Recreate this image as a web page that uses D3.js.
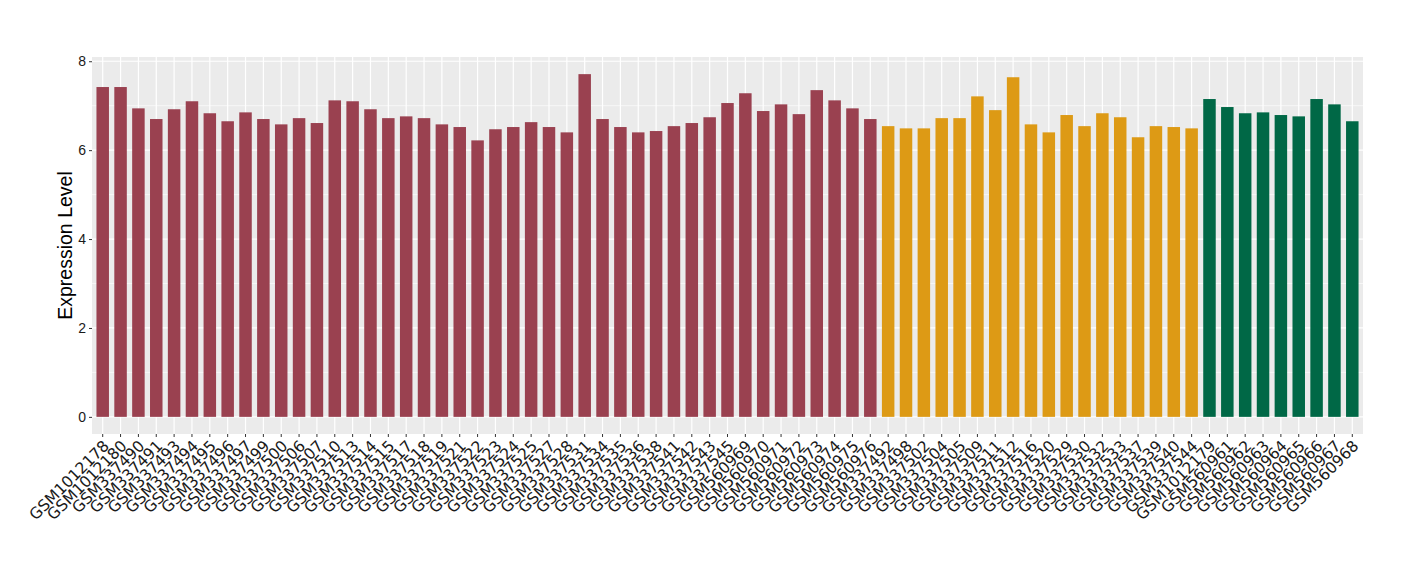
<!DOCTYPE html>
<html><head><meta charset="utf-8">
<script src="https://cdn.jsdelivr.net/npm/d3@7"></script>
<style>body{margin:0;background:#fff;} svg{display:block;}</style>
</head><body>
<svg id="chart" width="1420" height="580"></svg>
<script>
const groupA = ["GSM1012178","GSM1012180","GSM337490","GSM337491","GSM337493","GSM337494","GSM337495","GSM337496","GSM337497","GSM337499","GSM337500","GSM337506","GSM337507","GSM337510","GSM337513","GSM337514","GSM337515","GSM337517","GSM337518","GSM337519","GSM337521","GSM337522","GSM337523","GSM337524","GSM337525","GSM337527","GSM337528","GSM337531","GSM337534","GSM337535","GSM337536","GSM337538","GSM337541","GSM337542","GSM337543","GSM337545","GSM560969","GSM560970","GSM560971","GSM560972","GSM560973","GSM560974","GSM560975","GSM560976"];
const valuesA = [7.42,7.42,6.94,6.70,6.92,7.10,6.83,6.65,6.85,6.70,6.58,6.72,6.61,7.12,7.10,6.92,6.72,6.76,6.72,6.58,6.52,6.22,6.47,6.52,6.63,6.52,6.40,7.71,6.70,6.52,6.40,6.43,6.54,6.61,6.74,7.06,7.28,6.88,7.03,6.81,7.35,7.12,6.94,6.70];
const groupB = ["GSM337492","GSM337498","GSM337502","GSM337504","GSM337505","GSM337509","GSM337511","GSM337512","GSM337516","GSM337520","GSM337529","GSM337530","GSM337532","GSM337533","GSM337537","GSM337539","GSM337540","GSM337544"];
const valuesB = [6.54,6.49,6.49,6.72,6.72,7.21,6.90,7.64,6.58,6.40,6.79,6.54,6.83,6.74,6.29,6.54,6.52,6.49];
const groupC = ["GSM1012179","GSM560961","GSM560962","GSM560963","GSM560964","GSM560965","GSM560966","GSM560967","GSM560968"];
const valuesC = [7.15,6.97,6.83,6.85,6.79,6.76,7.15,7.03,6.65];
const groupColors = ["#9a4150","#dd9a15","#006846"];
const yTicks = [0,2,4,6,8];
const yMinor = [1,3,5,7];
const yTitle = "Expression Level";

const data = [];
[[groupA,valuesA],[groupB,valuesB],[groupC,valuesC]].forEach(([names,vals],g)=>{
  names.forEach((n,i)=>data.push({name:n,value:vals[i],group:g}));
});

const svg = d3.select("#chart");
const panel = {left:92, right:1363, top:57, bottom:434};
const n = data.length;
const unit = (panel.right-panel.left)/(n-1+1.2);
const x = d3.scaleBand().domain(data.map(d=>d.name))
  .range([panel.left+0.6*unit-0.5*unit, panel.right-0.6*unit+0.5*unit])
  .paddingInner(0.3).paddingOuter(0.15);
const maxV = d3.max(data,d=>d.value);
const y = d3.scaleLinear().domain([-0.05*maxV, maxV*1.05]).range([panel.bottom,panel.top]);

svg.append("rect").attr("x",panel.left).attr("y",panel.top)
  .attr("width",panel.right-panel.left).attr("height",panel.bottom-panel.top).attr("fill","#ebebeb");

const grid = svg.append("g");
grid.selectAll(".minor").data(yMinor).join("line")
  .attr("x1",panel.left).attr("x2",panel.right)
  .attr("y1",d=>y(d)).attr("y2",d=>y(d)).attr("stroke","#fff").attr("stroke-width",0.6);
grid.selectAll(".major").data(yTicks).join("line")
  .attr("x1",panel.left).attr("x2",panel.right)
  .attr("y1",d=>y(d)).attr("y2",d=>y(d)).attr("stroke","#fff").attr("stroke-width",1.2);
grid.selectAll(".vx").data(data).join("line")
  .attr("x1",d=>x(d.name)+x.bandwidth()/2).attr("x2",d=>x(d.name)+x.bandwidth()/2)
  .attr("y1",panel.top).attr("y2",panel.bottom).attr("stroke","#fff").attr("stroke-width",1.2);

svg.append("g").selectAll("rect").data(data).join("rect")
  .attr("x",d=>x(d.name)).attr("width",x.bandwidth())
  .attr("y",d=>y(d.value)).attr("height",d=>y(0)-y(d.value))
  .attr("fill",d=>groupColors[d.group]);

const yAxis = svg.append("g").attr("transform",`translate(${panel.left},0)`)
  .call(d3.axisLeft(y).tickValues(yTicks).tickSize(3).tickPadding(3).tickFormat(d3.format("d")));
yAxis.select(".domain").remove();
yAxis.selectAll("line").attr("stroke","#333");
yAxis.selectAll("text").attr("fill","#1a1a1a").style("font-family","Liberation Sans, Arial, sans-serif").style("font-size","14px");

const xAxis = svg.append("g").attr("transform",`translate(0,${panel.bottom})`)
  .call(d3.axisBottom(x).tickSize(3).tickPadding(3));
xAxis.select(".domain").remove();
xAxis.selectAll("line").attr("stroke","#333");
xAxis.selectAll("text")
  .attr("fill","#1a1a1a").style("font-family","DejaVu Sans, sans-serif").style("font-size","15.6px")
  .attr("text-anchor","end").attr("dy","0.72em").attr("y",3).attr("x",0)
  .attr("transform","rotate(-45) translate(-4,0)");

svg.append("text").attr("transform",`translate(72,${(panel.top+panel.bottom)/2}) rotate(-90)`)
  .attr("text-anchor","middle").style("font-family","Liberation Sans, Arial, sans-serif")
  .style("font-size","19.5px").attr("fill","#000").text(yTitle);
</script>
</body></html>
